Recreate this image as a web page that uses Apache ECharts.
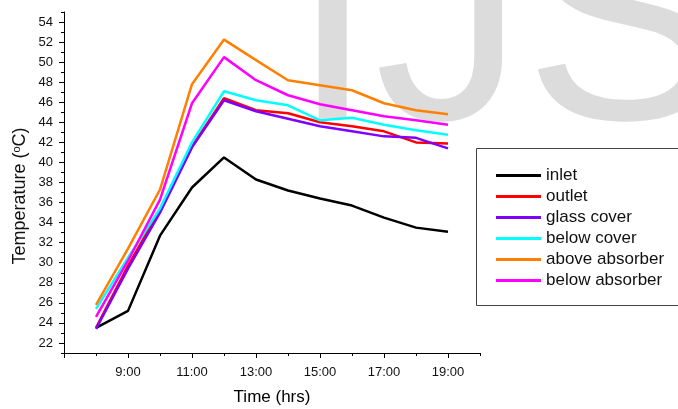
<!DOCTYPE html>
<html>
<head>
<meta charset="utf-8">
<script src="https://cdn.jsdelivr.net/npm/echarts@6.0.0/dist/echarts.min.js"></script>
<style>
  html, body { margin: 0; padding: 0; background: #fff; }
  #chart { width: 678px; height: 409px; }
</style>
</head>
<body>
<div id="chart"></div>
<script>
// hours of the day (x values)
const hours = [8, 9, 10, 11, 12, 13, 14, 15, 16, 17, 18, 19];
// temperatures (oC)
const inlet         = [23.5, 25.2, 32.7, 37.5, 40.5, 38.3, 37.2, 36.4, 35.7, 34.5, 33.5, 33.1];
const outlet        = [23.5, 29.7, 35.3, 41.6, 46.4, 45.2, 44.9, 44.0, 43.6, 43.1, 42.0, 41.9];
const glassCover    = [23.4, 29.4, 35.0, 41.5, 46.2, 45.1, 44.35, 43.6, 43.1, 42.6, 42.45, 41.4];
const belowCover    = [25.4, 30.5, 35.4, 42.0, 47.1, 46.2, 45.7, 44.2, 44.45, 43.75, 43.2, 42.75];
const aboveAbsorber = [25.8, 31.4, 37.3, 47.8, 52.25, 50.2, 48.2, 47.7, 47.2, 45.9, 45.2, 44.8];
const belowAbsorber = [24.6, 30.2, 36.3, 45.9, 50.5, 48.2, 46.7, 45.8, 45.2, 44.6, 44.2, 43.75];

// tick positions
const yMajor = [22, 24, 26, 28, 30, 32, 34, 36, 38, 40, 42, 44, 46, 48, 50, 52, 54];
const yMinor = [21, 23, 25, 27, 29, 31, 33, 35, 37, 39, 41, 43, 45, 47, 49, 51, 53, 55];
const xMajor = [7, 9, 11, 13, 15, 17, 19];
const xLabels = [9, 11, 13, 15, 17, 19];
const xMinor = [8, 10, 12, 14, 16, 18, 20];

const FONT = 'Liberation Sans, Arial, sans-serif';

function pairs(vals) {
  return vals.map(function (v, i) { return [hours[i], v]; });
}

const seriesDefs = [
  ['inlet', inlet, '#000000'],
  ['outlet', outlet, '#ff0000'],
  ['glass cover', glassCover, '#8000ff'],
  ['below cover', belowCover, '#00ffff'],
  ['above absorber', aboveAbsorber, '#ff8000'],
  ['below absorber', belowAbsorber, '#ff00ff']
];

const chart = echarts.init(document.getElementById('chart'), null, { renderer: 'canvas' });

const axisLine = { show: true, lineStyle: { color: '#000', width: 1 } };

const option = {
  animation: false,
  backgroundColor: '#fff',
  textStyle: { fontFamily: FONT },
  grid: { left: 64, right: 198, top: 12, bottom: 56, containLabel: false, outerBoundsMode: 'none' },
  xAxis: [
    {
      type: 'value', min: 7, max: 20, interval: 1,
      axisLine: axisLine,
      splitLine: { show: false },
      axisTick: { show: true, length: 5, customValues: xMajor, lineStyle: { color: '#000' } },
      axisLabel: {
        customValues: xLabels, fontSize: 13, color: '#111', margin: 13, fontFamily: FONT,
        formatter: function (v) { return v + ':00'; }
      },
      name: 'Time (hrs)', nameLocation: 'middle', nameGap: 36,
      nameTextStyle: { fontSize: 17, color: '#000', fontFamily: FONT }
    },
    {
      type: 'value', min: 7, max: 20, interval: 1, position: 'bottom',
      axisLine: { show: false },
      splitLine: { show: false },
      axisTick: { show: true, length: 3, customValues: xMinor, lineStyle: { color: '#000' } },
      axisLabel: { show: false }
    }
  ],
  yAxis: [
    {
      type: 'value', min: 21, max: 55, interval: 1,
      axisLine: axisLine,
      splitLine: { show: false },
      axisTick: { show: true, length: 5, customValues: yMajor, lineStyle: { color: '#000' } },
      axisLabel: {
        customValues: yMajor, fontSize: 13, color: '#111', margin: 11, fontFamily: FONT,
        formatter: function (v) { return v % 2 === 0 ? String(v) : ''; }
      }
    },
    {
      type: 'value', min: 21, max: 55, interval: 1, position: 'left',
      axisLine: { show: false },
      splitLine: { show: false },
      axisTick: { show: true, length: 3, customValues: yMinor, lineStyle: { color: '#000' } },
      axisLabel: { show: false }
    }
  ],
  legend: {
    orient: 'vertical',
    left: 496, top: 167, padding: 0,
    itemWidth: 45, itemHeight: 14, itemGap: 4,
    icon: 'path://M0,6 L45,6 L45,9 L0,9 Z',
    textStyle: { fontSize: 17, color: '#111', fontFamily: FONT, lineHeight: 17 },
    data: seriesDefs.map(function (d) { return d[0]; })
  },
  graphic: [
    {
      type: 'text', z: -100, silent: true,
      x: 291, y: -114,
      style: { text: 'IJSER', fill: '#dcdcdc', font: '300px ' + FONT, align: 'left', verticalAlign: 'top' }
    },
    {
      type: 'rect', z: 1, silent: true,
      shape: { x: 476.5, y: 148.5, width: 240, height: 157 },
      style: { fill: '#fff', stroke: '#444', lineWidth: 1 }
    },
    {
      type: 'text', z: 10,
      x: 20, y: 196, rotation: Math.PI / 2,
      style: {
        text: 'Temperature ({s|o}C)',
        font: '18px ' + FONT,
        fill: '#111',
        align: 'center', verticalAlign: 'middle',
        rich: { s: { fontSize: 11, fontFamily: FONT, verticalAlign: 'top', lineHeight: 18 } }
      }
    }
  ],
  series: seriesDefs.map(function (d) {
    return {
      name: d[0], type: 'line', data: pairs(d[1]),
      symbol: 'none', smooth: false,
      lineStyle: { color: d[2], width: 2.5 },
      itemStyle: { color: d[2] },
      z: 5
    };
  })
};

chart.setOption(option);
</script>
</body>
</html>
